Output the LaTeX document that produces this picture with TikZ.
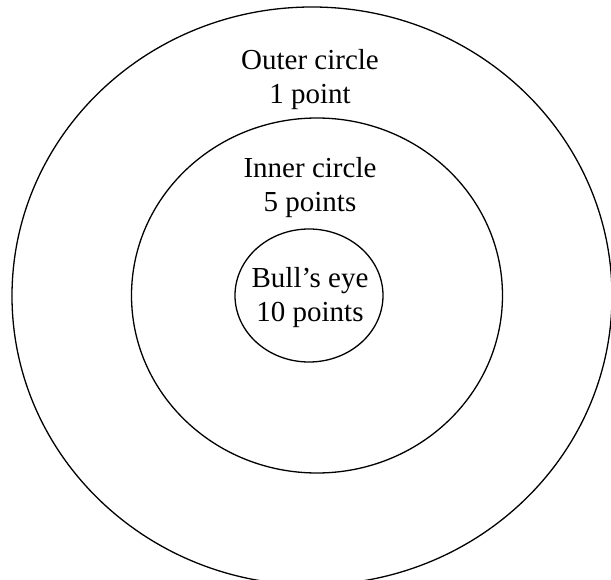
\documentclass[tikz,border=0pt]{standalone}
\usepackage{fontspec}
\setmainfont{Liberation Serif}
\usepackage{tikz}
\usetikzlibrary{positioning}
\tikzset{
  ring/.style={draw=black, line width=1.3pt},
  ringlabel/.style={font=\fontsize{29}{34}\selectfont, align=center, inner sep=0pt}
}

\begin{document}
\begin{tikzpicture}[x=1pt, y=-1pt]
      % Frame of the page
      \useasboundingbox (0,0) rectangle (611,580);
      % Outer circle
      \draw[ring] (312,296) ellipse [x radius=300, y radius=289];
      % Inner circle
      \draw[ring] (317,295.5) ellipse [x radius=185.5, y radius=177.5];
      % Bull's eye
      \draw[ring] (309,295.5) ellipse [x radius=74, y radius=66.5];
      % Labels
      \node[ringlabel] (outer) at (310,80) {Outer circle\\1 point};
      \node[ringlabel] (inner) at (310,188) {Inner circle\\5 points};
      \node[ringlabel] (bull) at (310,298) {Bull’s eye\\10 points};
\end{tikzpicture}
\end{document}
